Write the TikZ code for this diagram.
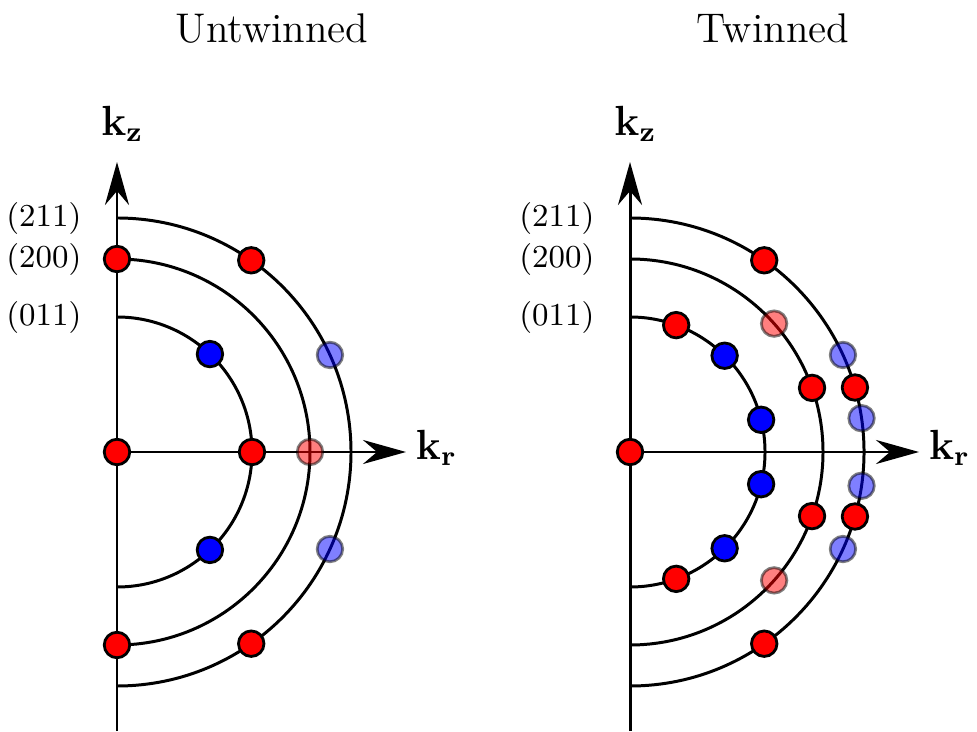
\documentclass[tikz,border=0pt]{standalone}
\usetikzlibrary{arrows.meta,positioning}
\definecolor{Rc}{HTML}{FF0000}
\definecolor{Bc}{HTML}{0000FF}
\tikzset{
  Rpk/.style={circle, draw=black, fill=Rc, line width=0.8pt, inner sep=0pt, minimum size=2.55mm},
  Bpk/.style={circle, draw=black, fill=Bc, line width=0.8pt, inner sep=0pt, minimum size=2.55mm},
  weak/.style={opacity=0.5},
  shell/.style={line width=0.85pt},
  kaxis/.style={-{Stealth[length=4.3mm, width=2.4mm]}, line width=0.85pt},
  hkl/.style={font=\fontsize{9.1}{11}\selectfont, anchor=east, inner sep=0pt},
  klab/.style={font=\fontsize{11.7}{14}\selectfont, inner sep=0pt},
  ttl/.style={font=\fontsize{11.8}{14}\selectfont, anchor=base, inner sep=0pt},
}
\newcommand{\rA}{1.35}
\newcommand{\rB}{1.93}
\newcommand{\rC}{2.34}
% axes, three shells and their labels; #1 = prefix of node names
\newcommand{\shellpanel}[1]{%
  \coordinate (#1o) at (0,0);
  \coordinate (#1bot) at (0,-2.79);
  \coordinate (#1top) at (0,2.90);
  \coordinate (#1end) at (2.89,0);
  \foreach \r in {\rA,\rB,\rC}
    \draw[shell] (0,\r) arc[start angle=90, end angle=-90, radius=\r];
  \draw[kaxis] (#1bot) -- (#1top);
  \draw[kaxis] (#1o) -- (#1end);
  \node[hkl] (#1hklA) at (-0.35,\rA) {(011)};
  \node[hkl] (#1hklB) at (-0.35,\rB) {(200)};
  \node[hkl] (#1hklC) at (-0.35,\rC) {(211)};
  \node[klab] (#1kz) at (0.055,3.28) {$\mathbf{k_z}$};
  \node[klab] (#1kr) at (3.195,0.04) {$\mathbf{k_r}$};}

\begin{document}
\begin{tikzpicture}
  \useasboundingbox (0,0) rectangle (9.77,7.31);
  \node[ttl] (tU) at (2.72,6.88) {Untwinned};
  \node[ttl] (tT) at (7.73,6.88) {Twinned};
  % untwinned
  \begin{scope}[shift={(1.17,2.79)}]
    \shellpanel{u}
    \foreach \p [count=\i] in {(0,0),(90:\rB),(-90:\rB),(0:\rA),(55:\rC),(-55:\rC)}
      \node[Rpk] (uR\i) at \p {};
    \foreach \p [count=\i] in {(46.5:\rA),(-46.5:\rA)}
      \node[Bpk] (uB\i) at \p {};
    \node[Rpk, weak] (uRw1) at (0:\rB) {};
    \foreach \p [count=\i] in {(24.5:\rC),(-24.5:\rC)}
      \node[Bpk, weak] (uBw\i) at \p {};
  \end{scope}
  % twinned
  \begin{scope}[shift={(6.30,2.79)}]
    \shellpanel{t}
    \foreach \p [count=\i] in {(0,0),(55:\rC),(-55:\rC),(70:\rA),(-70:\rA),
        (19.4:\rB),(-19.4:\rB),(16:\rC),(-16:\rC)}
      \node[Rpk] (tR\i) at \p {};
    \foreach \p [count=\i] in {(45.5:\rA),(-45.5:\rA),(13.8:\rA),(-13.8:\rA)}
      \node[Bpk] (tB\i) at \p {};
    \foreach \p [count=\i] in {(41.7:\rB),(-41.7:\rB)}
      \node[Rpk, weak] (tRw\i) at \p {};
    \foreach \p [count=\i] in {(24.5:\rC),(-24.5:\rC),(8.3:\rC),(-8.3:\rC)}
      \node[Bpk, weak] (tBw\i) at \p {};
  \end{scope}
\end{tikzpicture}
\end{document}
